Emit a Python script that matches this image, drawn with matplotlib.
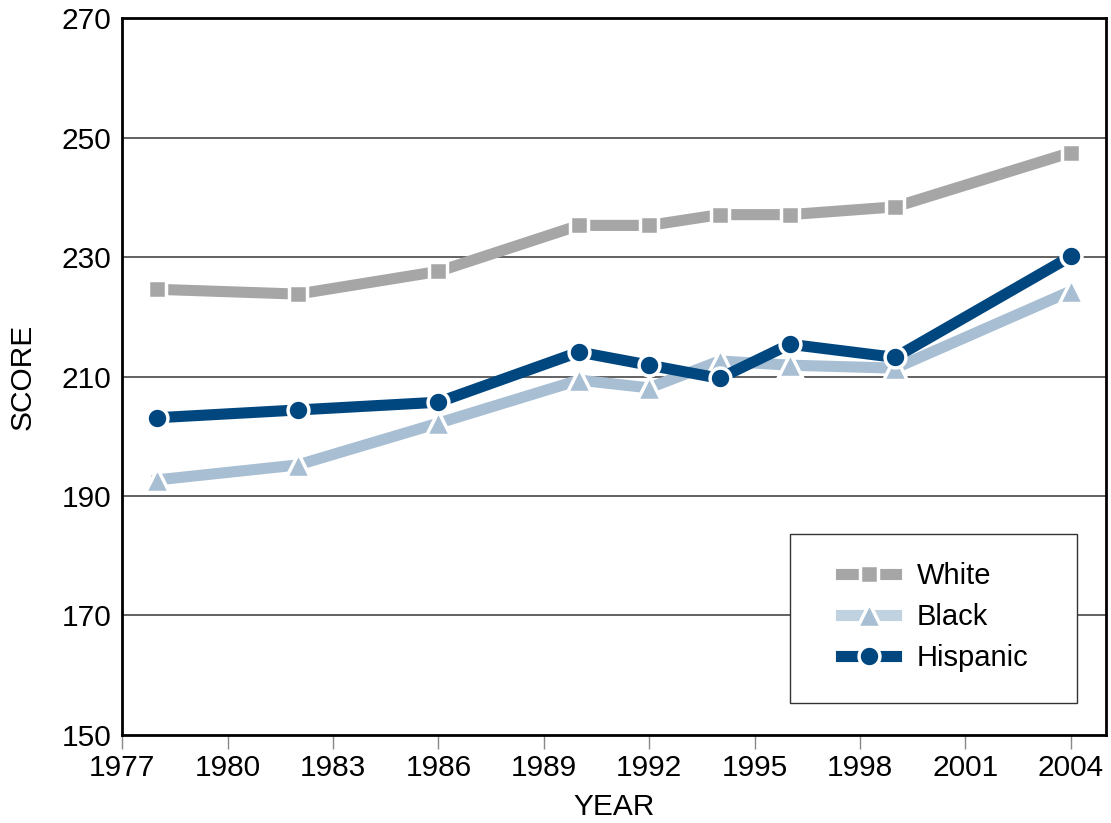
import matplotlib
matplotlib.use('Agg')
import matplotlib.pyplot as plt
from matplotlib.lines import Line2D
from matplotlib.patches import Rectangle

years = [1978, 1982, 1986, 1990, 1992, 1994, 1996, 1999, 2004]
white = [224.6, 223.8, 227.6, 235.3, 235.3, 237.1, 237.1, 238.4, 247.5]
black = [192.7, 195.2, 202.2, 209.4, 208.1, 212.6, 211.9, 211.4, 224.3]
hispanic = [203.1, 204.4, 205.7, 214.1, 211.9, 209.7, 215.4, 213.2, 230.1]
labels = ['White', 'Black', 'Hispanic']

x_ticks = list(range(1977, 2005, 3))
y_ticks = list(range(150, 271, 20))

plt.rcParams['font.family'] = ['Liberation Sans', 'DejaVu Sans']

fig = plt.figure(figsize=(11.11, 8.23), dpi=100)
ax = fig.add_axes([0.110, 0.107, 0.8855, 0.871])

styles = [
    dict(color='#a6a6a6', marker='s', ms=13),
    dict(color='#a7bed3', marker='^', ms=17),
    dict(color='#00467f', marker='o', ms=15),
]
for i, (vals, st) in enumerate(zip([white, black, hispanic], styles)):
    ax.plot(years, vals, lw=8, mec='white', mew=2.5, zorder=3 + i, **st)

ax.set_xlim(1977, 2005)
ax.set_ylim(150, 270)
ax.set_xticks(x_ticks)
ax.set_yticks(y_ticks)
ax.tick_params(axis='both', labelsize=21.5)
ax.tick_params(axis='x', length=10, width=1, color='#888888', direction='out', pad=4)
ax.tick_params(axis='y', length=0, pad=8)

for y in y_ticks[1:-1]:
    ax.axhline(y, color='#555555', lw=1.3, zorder=1)

for s in ax.spines.values():
    s.set_linewidth(2)
    s.set_color('black')

ax.set_xlabel('YEAR', fontsize=21.5, labelpad=8)
ax.set_ylabel('SCORE', fontsize=21.5, labelpad=18)

# legend box
ax.add_patch(Rectangle((0.679, 0.0446), 0.2915, 0.2354, transform=ax.transAxes,
                       facecolor='white', edgecolor='#333333', lw=1, zorder=10))

line_cols = ['#a6a6a6', '#c0d2e0', '#00467f']
handles = [Line2D([], [], lw=8, color=lc, marker=st['marker'], ms=st['ms'],
                  mfc=st['color'], mec='white', mew=2.5)
           for lc, st in zip(line_cols, styles)]
leg = ax.legend(handles, labels, loc='center', bbox_to_anchor=(0.826, 0.1646),
                fontsize=21, numpoints=1, handlelength=1.9, handletextpad=0.7,
                borderpad=0, labelspacing=0.45, frameon=False)
leg.set_zorder(11)

plt.savefig('out.png', dpi=100)
